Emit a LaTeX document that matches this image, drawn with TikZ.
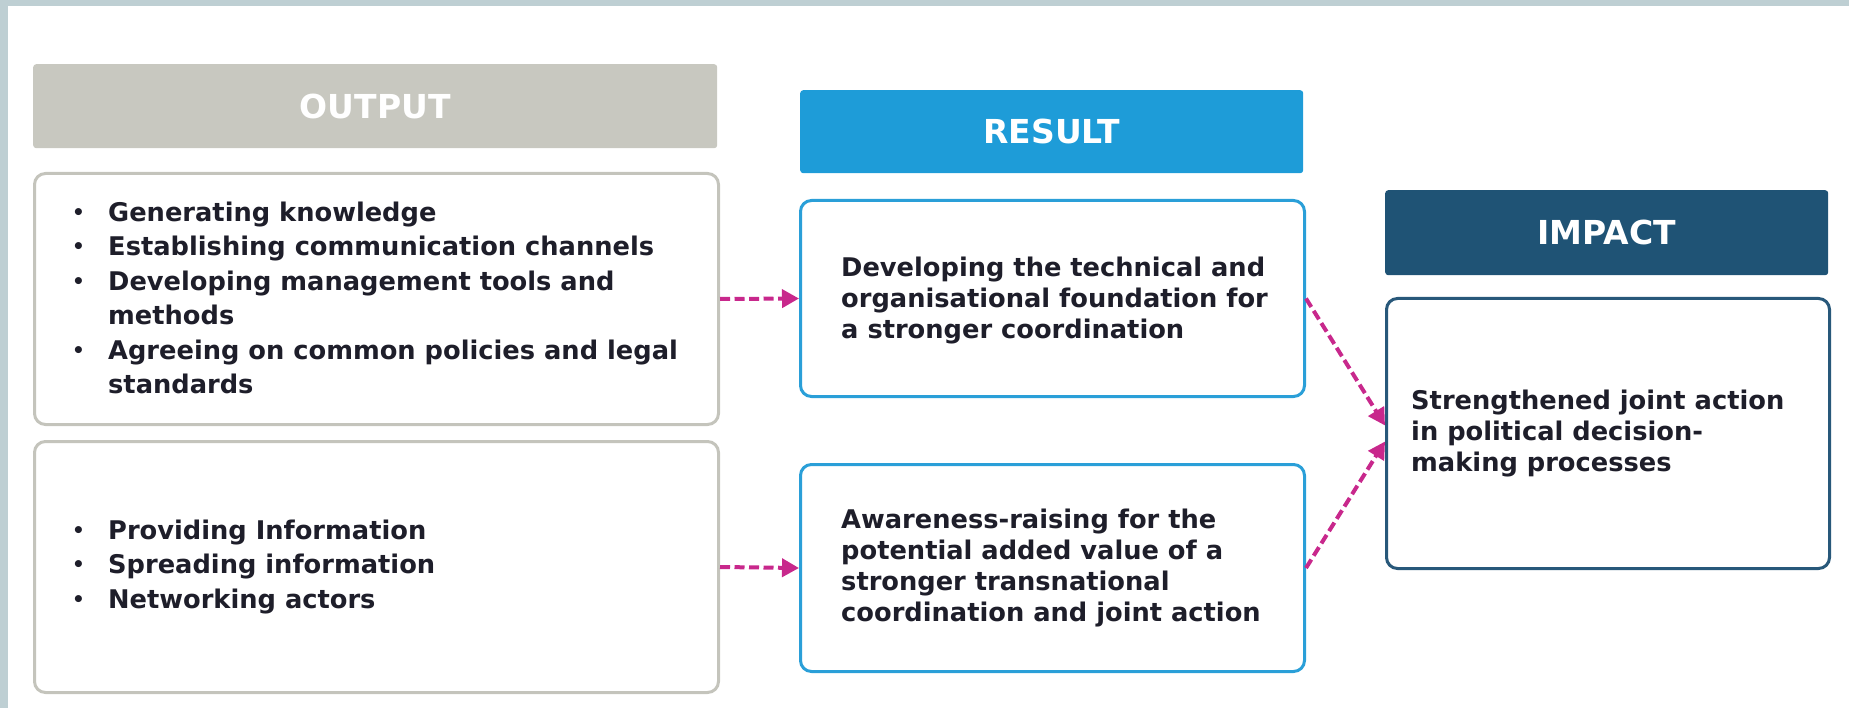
\documentclass[tikz,border=0pt]{standalone}
\usepackage{fontspec}
\setmainfont{DejaVu Sans}
\usetikzlibrary{arrows.meta}
\definecolor{framec}{HTML}{BECFD3}
\definecolor{outfill}{HTML}{C8C8C0}
\definecolor{outline}{HTML}{C4C4BC}
\definecolor{resfill}{HTML}{1E9CD8}
\definecolor{resline}{HTML}{2A9FD8}
\definecolor{impfill}{HTML}{1F5375}
\definecolor{impline}{HTML}{28587A}
\definecolor{arrc}{HTML}{C8288C}
\definecolor{txtc}{HTML}{1E1E2A}
\newcommand{\bl}{\makebox[36pt][l]{{\fontsize{20pt}{20pt}\selectfont\raisebox{2pt}{•}}}}
\newcommand{\ind}{\hspace*{36pt}}
\tikzset{
  hdr/.style={rounded corners=3pt, inner sep=0pt, anchor=north west, text=white,
    font=\fontsize{33pt}{33pt}\selectfont\bfseries},
  bx/.style={rounded corners=11pt, line width=3pt, fill=white, inner sep=0pt, anchor=north west},
  listtxt/.style={inner sep=0pt, anchor=north west, align=left, text=txtc,
    font=\fontsize{25.7pt}{34.5pt}\selectfont\bfseries},
  plaintxt/.style={inner sep=0pt, anchor=north west, align=left, text=txtc,
    font=\fontsize{25.7pt}{31pt}\selectfont\bfseries},
  arr/.style={draw=arrc, line width=4pt, dash pattern=on 10pt off 4.5pt,
    -{Triangle[length=17pt,width=18pt]}}
}
\begin{document}
\begin{tikzpicture}[x=1pt,y=-1pt]
\useasboundingbox (0,0) rectangle (1849,708);
\fill[framec] (0,0) rectangle (1849,6);
\fill[framec] (0,0) rectangle (8,708);

% OUTPUT column
\node[hdr, fill=outfill, minimum width=684pt, minimum height=84pt] (outh) at (33,64) {OUTPUT};
\node[bx, draw=outline, minimum width=684pt, minimum height=251pt] (out1) at (33,172) {};
\node[bx, draw=outline, minimum width=684pt, minimum height=251pt] (out2) at (33,440) {};
\node[listtxt] (out1t) at (72,196.85) {\strut\bl Generating knowledge\\
\bl Establishing communication channels\\
\bl Developing management tools and\\
\ind methods\\
\bl Agreeing on common policies and legal\\
\ind standards};
\node[listtxt] (out2t) at (72,514.85) {\strut\bl Providing Information\\
\bl Spreading information\\
\bl Networking actors};

% RESULT column
\node[hdr, fill=resfill, minimum width=503pt, minimum height=83pt] (resh) at (800,90) {RESULT};
\node[bx, draw=resline, minimum width=504pt, minimum height=196pt] (res1) at (799,199) {};
\node[bx, draw=resline, minimum width=504pt, minimum height=207pt] (res2) at (799,463) {};
\node[plaintxt] (res1t) at (841,254.3) {\strut Developing the technical and\\
organisational foundation for\\
a stronger coordination};
\node[plaintxt] (res2t) at (841,506.3) {\strut Awareness-raising for the\\
potential added value of a\\
stronger transnational\\
coordination and joint action};

% IMPACT column
\node[hdr, fill=impfill, minimum width=443pt, minimum height=85pt] (imph) at (1385,190) {IMPACT};
\node[bx, draw=impline, minimum width=443pt, minimum height=270pt] (imp) at (1385,297) {};
\node[plaintxt] (impt) at (1411,387.3) {\strut Strengthened joint action\\
in political decision-\\
making processes};

% connectors
\draw[arr] (out1.east) -- (res1.west);
\draw[arr] (out2.east) -- (res2.west);
\draw[arr] (res1.east) -- ([yshift=8pt]imp.west);
\draw[arr] (res2.east) -- ([yshift=-8pt]imp.west);
\end{tikzpicture}
\end{document}
